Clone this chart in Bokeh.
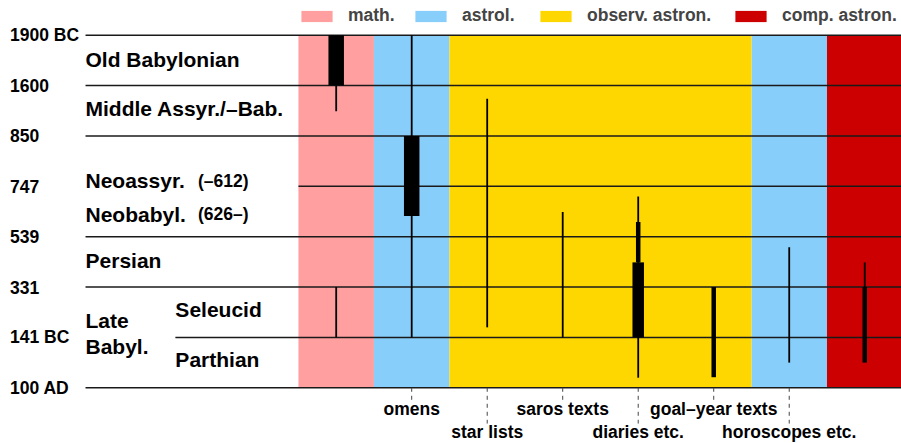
from bokeh.plotting import figure
from bokeh.models import Range1d, ColumnDataSource, Legend, LegendItem
from bokeh.core.properties import value
from bokeh.embed import file_html
from bokeh.resources import INLINE

# ---------------- data ----------------
# period boundaries (one per horizontal rule, top to bottom)
boundary_labels = ["1900 BC", "1600", "850", "747", "539", "331", "141 BC", "100 AD"]

# period names and where they sit (row coordinate = boundary index)
period_names = ["Old Babylonian", "Middle Assyr./–Bab.", "Neoassyr.", "Neobabyl.", "Persian", "Late", "Babyl.", "Seleucid", "Parthian"]
period_rows = [0.48, 1.46, 2.885, 3.55, 4.47, 5.66, 6.18, 5.45, 6.44]
period_notes = ["(–612)", "(626–)"]
period_note_rows = [2.885, 3.55]

# text genres (columns)
column_names = ["", "omens", "star lists", "saros texts", "diaries etc.", "goal–year texts", "horoscopes etc.", ""]
column_kind = ["math.", "astrol.", "observ. astron.", "observ. astron.", "observ. astron.", "observ. astron.", "astrol.", "comp. astron."]
kinds = ["math.", "astrol.", "observ. astron.", "comp. astron."]

# attestation ranges: column index, start row, end row, abundance level
seg_col   = [0, 0, 0,    1, 1,    2,    3,    4,    4,    4,    5,    6,    7,    7]
seg_from  = [0, 1, 5,    0, 2,    1.26, 3.51, 3.20, 3.71, 4.51, 5.0,  4.21, 4.51, 5.0]
seg_to    = [1, 1.51, 6, 6, 3.59, 5.80, 6.0,  6.80, 4.51, 6.0,  6.79, 6.50, 5.0,  6.50]
seg_level = [4, 1, 1,    1, 4,    1,    1,    1,    2,    3,    2,    1,    1,    2]

# ---------------- style / layout ----------------
kind_colors = {"math.": "#FF9FA0", "astrol.": "#87CEFA", "observ. astron.": "#FFD700", "comp. astron.": "#CC0000"}
level_width = {1: 1.8, 2: 4.5, 3: 11.5, 4: 15.5}
legend_px = [297, 411, 536, 731]          # screen x of each legend entry
FONT_NAME = "Liberation Sans"
FONT = value(FONT_NAME)
X_TICKLBL = -4.32
X_NAME = -3.32
X_SUB = -2.13
X_NOTE = -1.83
X_COLSTART = -0.5
rule_start = [X_NAME, X_NAME, X_NAME, X_COLSTART, X_NAME, X_NAME, X_SUB, X_NAME]
ncol = len(column_kind)

p = figure(width=901, height=443, output_backend="svg", toolbar_location=None,
           x_range=Range1d(-4.446, 7.487), y_range=Range1d(8.106, -0.689),
           x_axis_location=None, y_axis_location=None, min_border=0)
p.grid.visible = False
p.outline_line_color = None
p.background_fill_color = "white"
p.border_fill_color = "white"

# coloured column backgrounds (merge runs of equal kind)
runs = []
start = 0
for i in range(1, ncol + 1):
    if i == ncol or column_kind[i] != column_kind[start]:
        runs.append((column_kind[start], start - 0.5, i - 0.5))
        start = i
nrows = len(boundary_labels) - 1
legend_items = []
for k in kinds:
    lefts = [r[1] for r in runs if r[0] == k]
    rights = [r[2] for r in runs if r[0] == k]
    rr = p.quad(left=lefts, right=rights, top=[0] * len(lefts), bottom=[nrows] * len(lefts),
                fill_color=kind_colors[k], line_color=None)
    legend_items.append(LegendItem(label=k, renderers=[rr]))

# horizontal rules
p.segment(x0=rule_start, x1=[ncol - 0.4] * len(rule_start),
          y0=list(range(len(boundary_labels))), y1=list(range(len(boundary_labels))),
          line_color="#1a1a1a", line_width=1.5)

# attestation bars
bars = ColumnDataSource(dict(x=seg_col, y0=seg_from, y1=seg_to,
                             w=[level_width[l] for l in seg_level]))
p.segment(x0="x", x1="x", y0="y0", y1="y1", line_width="w", line_color="black",
          line_cap="butt", source=bars)

# boundary labels
p.text(x=[X_TICKLBL] * len(boundary_labels), y=list(range(len(boundary_labels))), text=boundary_labels,
       text_font=FONT, text_font_style="bold", text_font_size="17.5px",
       text_align="left", text_baseline="middle", text_color="black")

# period names
name_x = [X_NAME, X_NAME, X_NAME, X_NAME, X_NAME, X_NAME, X_NAME, X_SUB, X_SUB]
p.text(x=name_x, y=period_rows, text=period_names, text_font=FONT, text_font_style="bold",
       text_font_size="21px", text_align="left", text_baseline="middle", text_color="black")
p.text(x=[X_NOTE] * len(period_notes), y=period_note_rows, text=period_notes, text_font=FONT,
       text_font_style="bold", text_font_size="17.5px", text_align="left", text_baseline="middle",
       text_color="black")

# bottom genre labels with dashed leaders
lab_idx = [i for i in range(ncol) if column_names[i]]
lab_low = [(j % 2) == 1 for j in range(len(lab_idx))]
tick_end = [7.71 if lo else 7.25 for lo in lab_low]
p.segment(x0=lab_idx, x1=lab_idx, y0=[nrows] * len(lab_idx), y1=tick_end,
          line_color="#444444", line_width=1, line_dash="4 4")
p.text(x=lab_idx, y=[7.88 if lo else 7.43 for lo in lab_low], text=[column_names[i] for i in lab_idx],
       text_font=FONT, text_font_style="bold", text_font_size="17.5px",
       text_align="center", text_baseline="alphabetic", text_color="black")

for item, lx in zip(legend_items, legend_px):
    legend = Legend(items=[item], orientation="horizontal", location=(lx, 417),
                    padding=0, margin=0, spacing=0, glyph_width=39, glyph_height=14,
                    label_standoff=12, label_text_font=FONT_NAME, label_text_font_style="bold",
                    label_text_font_size="17.5px", background_fill_alpha=0, border_line_alpha=0)
    p.add_layout(legend)

open("out.html", "w").write(file_html(p, INLINE))
